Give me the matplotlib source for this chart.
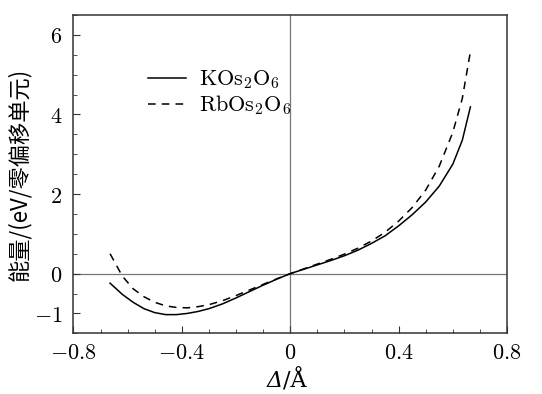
import matplotlib
matplotlib.use('Agg')
import matplotlib.pyplot as plt
from matplotlib.ticker import MultipleLocator

plt.rcParams['font.family'] = ['DejaVu Serif', 'Noto Sans CJK SC']
plt.rcParams['mathtext.fontset'] = 'cm'

# data
delta = [-0.665, -0.62, -0.58, -0.54, -0.5, -0.46, -0.42, -0.38, -0.34, -0.3,
         -0.25, -0.2, -0.15, -0.1, -0.05, 0, 0.05, 0.1, 0.15, 0.2,
         0.25, 0.3, 0.35, 0.4, 0.45, 0.5, 0.55, 0.6, 0.635, 0.665]
e_kos = [-0.24, -0.52, -0.72, -0.88, -0.98, -1.03, -1.03, -1.0, -0.95, -0.88,
         -0.76, -0.61, -0.45, -0.29, -0.14, 0, 0.11, 0.22, 0.33, 0.45,
         0.59, 0.76, 0.95, 1.2, 1.48, 1.8, 2.2, 2.75, 3.35, 4.19]
e_rbos = [0.5, -0.06, -0.38, -0.58, -0.72, -0.81, -0.85, -0.86, -0.83, -0.78,
          -0.68, -0.55, -0.41, -0.27, -0.13, 0, 0.12, 0.24, 0.36, 0.49,
          0.64, 0.82, 1.04, 1.32, 1.66, 2.1, 2.7, 3.55, 4.4, 5.58]

xticks = [-0.8, -0.4, 0, 0.4, 0.8]
xlabels = ['$-0.8$', '$-0.4$', '$0$', '$0.4$', '$0.8$']
yticks = [-1, 0, 2, 4, 6]
ylabels = ['$-1$', '$0$', '$2$', '$4$', '$6$']

fig = plt.figure(figsize=(5.42, 3.94), dpi=100)
ax = fig.add_axes([0.1356, 0.154, 0.7998, 0.808])

ax.axhline(0, color='#777777', lw=0.9, zorder=1)
ax.axvline(0, color='#777777', lw=0.9, zorder=1)

ax.plot(delta, e_kos, color='black', lw=1.1, label=r'$\mathrm{KOs_2O_6}$')
ax.plot(delta, e_rbos, color='black', lw=1.1, ls=(0, (5, 4)), label=r'$\mathrm{RbOs_2O_6}$')

ax.set_xlim(-0.8, 0.8)
ax.set_ylim(-1.5, 6.5)
ax.set_xticks(xticks)
ax.set_xticklabels(xlabels)
ax.set_yticks(yticks)
ax.set_yticklabels(ylabels)
ax.xaxis.set_minor_locator(MultipleLocator(0.1))
ax.yaxis.set_minor_locator(MultipleLocator(0.5))
ax.tick_params(which='both', direction='in', top=False, right=False, labelsize=16, color='#333333')
ax.tick_params(axis='x', pad=6)
ax.tick_params(axis='y', pad=8)
ax.tick_params(which='major', length=5)
ax.tick_params(which='minor', length=3)
for s in ax.spines.values():
    s.set_linewidth(1.1)
    s.set_color('#333333')

# x label: italic Delta + upright "/Å" (mathtext keeps capital Greek upright)
fig.text(283 / 542, 1 - 381 / 394, 'Δ', fontsize=16, fontstyle='italic', ha='right', va='center')
fig.text(283 / 542, 1 - 381 / 394, '/Å', fontsize=16, ha='left', va='center')
ax.set_ylabel('能量/(eV/零偏移单元)', fontsize=16, family=['Noto Sans CJK SC', 'DejaVu Serif'], labelpad=2)

ax.legend(loc='upper left', bbox_to_anchor=(0.152, 0.86), frameon=False, fontsize=16,
          handlelength=1.7, handletextpad=0.6, labelspacing=0.1, borderaxespad=0)

fig.savefig('out.png', dpi=100)
